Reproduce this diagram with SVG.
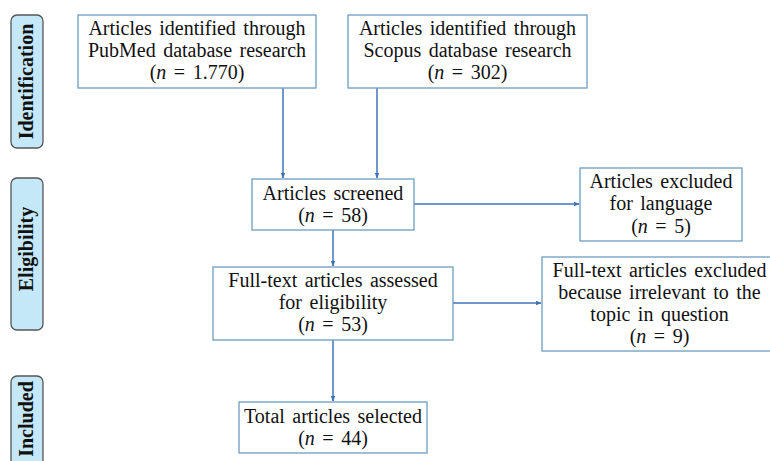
<svg xmlns="http://www.w3.org/2000/svg" width="770" height="461" viewBox="0 0 770 461">
<style>
.box{fill:#fff;stroke:#6e9cc0;stroke-width:1.3}
.stage{fill:#c4e8f8;stroke:#555;stroke-width:1.3}
.t{font-family:"Liberation Serif","Times New Roman",serif;font-size:20px;fill:#111;text-anchor:middle;word-spacing:2.5px}
.lbl{font-family:"Liberation Serif","Times New Roman",serif;font-size:20px;font-weight:bold;fill:#111;text-anchor:middle}
.c{stroke:#3f74b8;stroke-width:1.5;fill:none;marker-end:url(#ah)}
</style>
<defs>
<marker id="ah" viewBox="0 0 10 10" refX="9" refY="5" markerWidth="6" markerHeight="6" markerUnits="userSpaceOnUse" orient="auto">
<path d="M0,1 L10,5 L0,9 z" fill="#3f74b8"/>
</marker>
</defs>
<rect width="770" height="461" fill="#fff"/>
<g id="stage-identification">
<rect class="stage" x="11" y="15" width="32" height="133" rx="6"/>
<text class="lbl" transform="translate(33,81.5) rotate(-90)">Identification</text>
</g>
<g id="stage-eligibility">
<rect class="stage" x="11" y="178" width="32" height="152" rx="6"/>
<text class="lbl" transform="translate(33,249) rotate(-90)">Eligibility</text>
</g>
<g id="stage-included">
<rect class="stage" x="11" y="376" width="32" height="100" rx="6"/>
<text class="lbl" transform="translate(33,419) rotate(-90)">Included</text>
</g>
<g id="connectors">
<line class="c" x1="283" y1="88" x2="283" y2="178"/>
<line class="c" x1="377" y1="88" x2="377" y2="178"/>
<line class="c" x1="414" y1="204" x2="579" y2="204"/>
<line class="c" x1="333" y1="230" x2="333" y2="266"/>
<line class="c" x1="453" y1="303" x2="541" y2="303"/>
<line class="c" x1="333" y1="340" x2="333" y2="401"/>
</g>
<g id="pubmed">
<rect class="box" x="78" y="15" width="238" height="73"/>
<text class="t" x="197" y="35">Articles identified through</text>
<text class="t" x="197" y="57">PubMed database research</text>
<text class="t" x="197" y="79">(<tspan font-style="italic">n</tspan> = 1.770)</text>
</g>
<g id="scopus">
<rect class="box" x="348" y="15" width="239" height="73"/>
<text class="t" x="467.5" y="35">Articles identified through</text>
<text class="t" x="467.5" y="57">Scopus database research</text>
<text class="t" x="467.5" y="79">(<tspan font-style="italic">n</tspan> = 302)</text>
</g>
<g id="screened">
<rect class="box" x="252" y="179" width="162" height="51"/>
<text class="t" x="333" y="200">Articles screened</text>
<text class="t" x="333" y="222">(<tspan font-style="italic">n</tspan> = 58)</text>
</g>
<g id="excluded-language">
<rect class="box" x="580" y="168" width="162" height="73"/>
<text class="t" x="661" y="188">Articles excluded</text>
<text class="t" x="661" y="210">for language</text>
<text class="t" x="661" y="233">(<tspan font-style="italic">n</tspan> = 5)</text>
</g>
<g id="fulltext">
<rect class="box" x="213" y="267" width="240" height="73"/>
<text class="t" x="333" y="287">Full-text articles assessed</text>
<text class="t" x="333" y="309">for eligibility</text>
<text class="t" x="333" y="331">(<tspan font-style="italic">n</tspan> = 53)</text>
</g>
<g id="excluded-irrelevant">
<rect class="box" x="542" y="257" width="240" height="94"/>
<text class="t" x="659.5" y="277">Full-text articles excluded</text>
<text class="t" x="659.5" y="299">because irrelevant to the</text>
<text class="t" x="659.5" y="321">topic in question</text>
<text class="t" x="659.5" y="343">(<tspan font-style="italic">n</tspan> = 9)</text>
</g>
<g id="total">
<rect class="box" x="239" y="402" width="188" height="51"/>
<text class="t" x="333" y="423">Total articles selected</text>
<text class="t" x="333" y="445">(<tspan font-style="italic">n</tspan> = 44)</text>
</g>
</svg>
